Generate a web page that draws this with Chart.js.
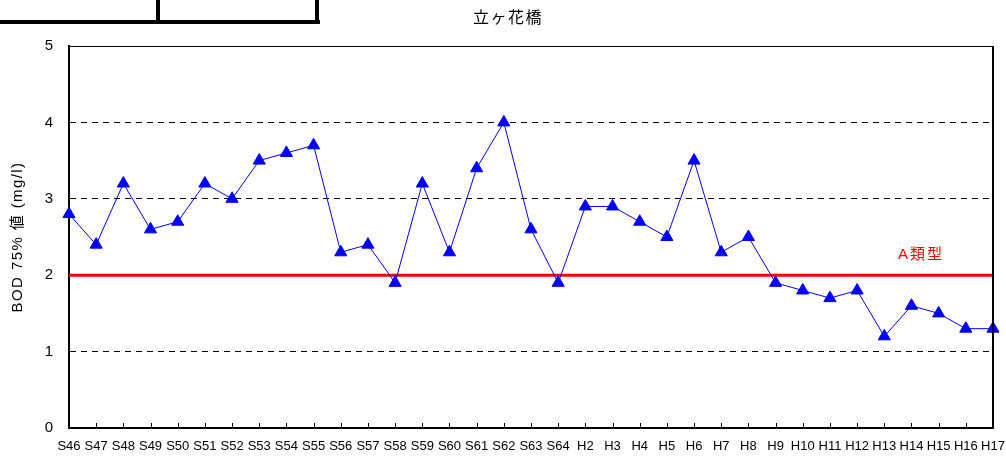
<!DOCTYPE html>
<html>
<head>
<meta charset="utf-8">
<script src="https://cdn.jsdelivr.net/npm/chart.js@4/dist/chart.umd.min.js"></script>
<style>
  html, body { margin: 0; padding: 0; background: #fff; }
  #wrap { position: relative; width: 1006px; height: 459px; }
  .bar { position: absolute; background: #000; }
</style>
</head>
<body>
<div id="wrap">
  <canvas id="myChart" width="1006" height="459"></canvas>
  <!-- the table edge cut off at the top left -->
  <div class="bar" style="left:0; top:20px; width:320px; height:4px;"></div>
  <div class="bar" style="left:156px; top:0; width:4px; height:24px;"></div>
  <div class="bar" style="left:315px; top:0; width:4px; height:24px;"></div>
</div>
<script>
// Years (Showa S46-S64, Heisei H2-H17)
var years = ["S46","S47","S48","S49","S50","S51","S52","S53","S54","S55",
             "S56","S57","S58","S59","S60","S61","S62","S63","S64",
             "H2","H3","H4","H5","H6","H7","H8","H9","H10","H11","H12",
             "H13","H14","H15","H16","H17"];

// BOD 75% value (mg/l) at 立ヶ花橋
var bod75 = [2.8, 2.4, 3.2, 2.6, 2.7, 3.2, 3.0, 3.5, 3.6, 3.7,
             2.3, 2.4, 1.9, 3.2, 2.3, 3.4, 4.0, 2.6, 1.9,
             2.9, 2.9, 2.7, 2.5, 3.5, 2.3, 2.5, 1.9, 1.8, 1.7, 1.8,
             1.2, 1.6, 1.5, 1.3, 1.3];

// environmental standard (type A)
var standardA = 2;
var standardLabel = "A類型";

var yTicks = [0, 1, 2, 3, 4, 5];

var chartTitle = "立ヶ花橋";
var yTitle = "BOD 75% 値 (mg/l)";

var FONT = "'Liberation Sans', Arial, 'Noto Sans CJK JP', sans-serif";

// texts with letter spacing, red standard line, frame and inner x ticks
var decorations = {
    id: 'decorations',
    beforeDatasetsDraw: function(chart) {
        var ctx = chart.ctx, area = chart.chartArea;
        var y = chart.scales.y.getPixelForValue(standardA);
        ctx.save();
        ctx.strokeStyle = "#ff0000";
        ctx.lineWidth = 3;
        ctx.beginPath();
        ctx.moveTo(area.left, y);
        ctx.lineTo(area.right, y);
        ctx.stroke();
        ctx.fillStyle = "#ff0000";
        ctx.font = "15px " + FONT;
        ctx.letterSpacing = "2px";
        ctx.textAlign = "center";
        ctx.textBaseline = "middle";
        ctx.fillText(standardLabel, area.right - 72, y - 20);
        ctx.restore();
    },
    afterDraw: function(chart) {
        var ctx = chart.ctx, area = chart.chartArea;
        var xs = chart.scales.x;
        ctx.save();
        // title
        ctx.fillStyle = "#000";
        ctx.font = "16px " + FONT;
        ctx.letterSpacing = "1.5px";
        ctx.textAlign = "center";
        ctx.textBaseline = "middle";
        ctx.fillText(chartTitle, 508, 19);
        // y axis title
        ctx.save();
        ctx.translate(18, (area.top + area.bottom) / 2);
        ctx.rotate(-Math.PI / 2);
        ctx.font = "15px " + FONT;
        ctx.letterSpacing = "1.4px";
        ctx.fillText(yTitle, 0, 0);
        ctx.restore();
        ctx.letterSpacing = "0px";
        // frame
        ctx.strokeStyle = "#000";
        ctx.lineWidth = 1;
        ctx.beginPath();
        ctx.moveTo(area.left, area.top + 0.5);
        ctx.lineTo(area.right, area.top + 0.5);
        ctx.stroke();
        ctx.lineWidth = 2;
        ctx.beginPath();
        ctx.moveTo(area.right, area.top);
        ctx.lineTo(area.right, area.bottom);
        ctx.stroke();
        // x ticks pointing inwards
        ctx.lineWidth = 1;
        ctx.beginPath();
        for (var i = 1; i < xs.ticks.length; i++) {
            var px = Math.round(xs.getPixelForTick(i)) + 0.5;
            ctx.moveTo(px, area.bottom);
            ctx.lineTo(px, area.bottom - 5);
        }
        ctx.stroke();
        ctx.restore();
    }
};

var ctx = document.getElementById("myChart").getContext("2d");
new Chart(ctx, {
    type: 'line',
    data: {
        labels: years,
        datasets: [{
            label: 'BOD 75%値',
            data: bod75,
            borderColor: "#0000ff",
            backgroundColor: "#0000ff",
            borderWidth: 1,
            pointStyle: 'triangle',
            pointRadius: 7,
            pointBorderWidth: 1,
            tension: 0
        }]
    },
    options: {
        responsive: false,
        animation: false,
        layout: { padding: { left: 0, right: 13, top: 46, bottom: 0 } },
        plugins: {
            legend: { display: false },
            tooltip: { enabled: false },
            title: { display: false }
        },
        scales: {
            x: {
                offset: false,
                grid: { display: true, drawOnChartArea: false, drawTicks: false },
                border: { color: "#000", width: 2 },
                ticks: {
                    autoSkip: false,
                    maxRotation: 0,
                    minRotation: 0,
                    padding: 11,
                    color: "#000",
                    font: { family: FONT, size: 13 }
                },
                afterFit: function(scale) {
                    scale.height = 31;
                    scale.paddingLeft = 0;
                    scale.paddingRight = 0;
                }
            },
            y: {
                min: 0,
                max: 5,
                afterBuildTicks: function(scale) {
                    scale.ticks = yTicks.map(function(v) { return { value: v }; });
                },
                grid: {
                    color: function(c) { return (c.tick && c.tick.value > 0 && c.tick.value < 5) ? "#000" : "rgba(0,0,0,0)"; },
                    lineWidth: 1,
                    drawTicks: false
                },
                border: { color: "#000", width: 2, dash: [6, 5] },
                ticks: {
                    padding: 16,
                    color: "#000",
                    font: { family: FONT, size: 15 }
                },
                afterFit: function(scale) {
                    scale.width = 69;
                    scale.paddingTop = 0;
                    scale.paddingBottom = 0;
                }
            }
        }
    },
    plugins: [decorations]
});
</script>
</body>
</html>
